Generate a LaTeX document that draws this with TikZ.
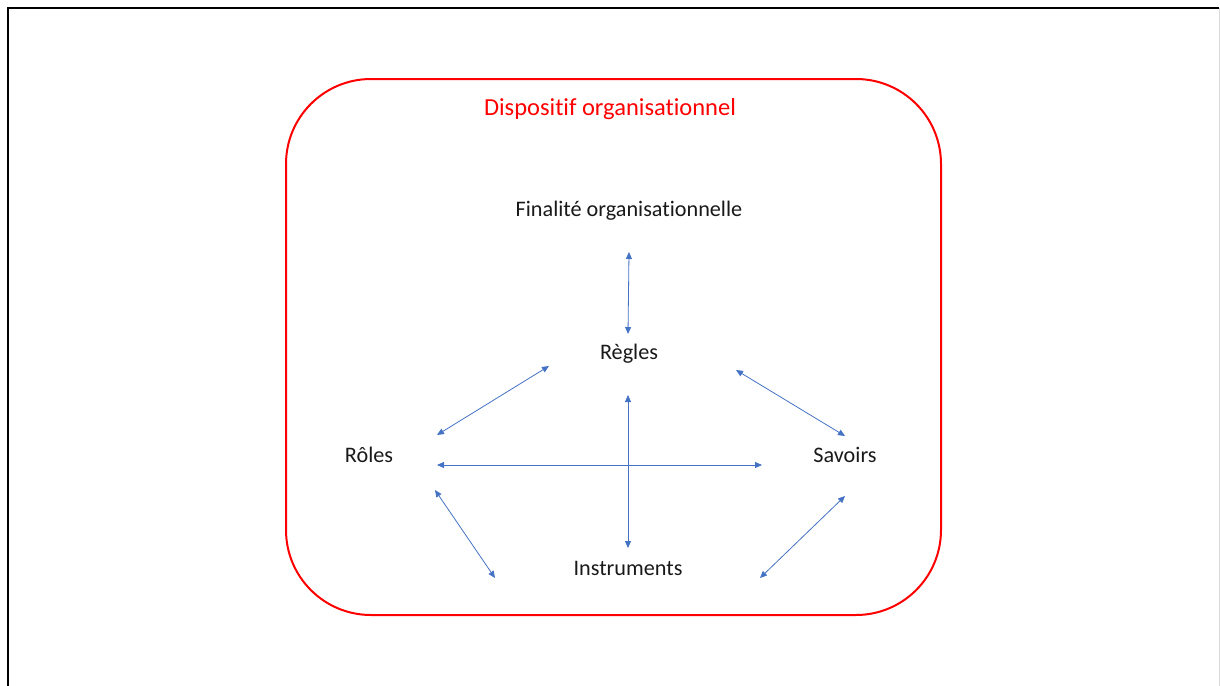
\documentclass[tikz,border=0pt]{standalone}
\usepackage{fontspec}
\setmainfont[Ligatures=NoCommon]{Carlito}
\usetikzlibrary{arrows.meta}
\definecolor{cadrerouge}{RGB}{255,0,0}
\definecolor{lienbleu}{RGB}{68,114,196}
\definecolor{textegris}{RGB}{25,25,25}
\begin{document}
\begin{tikzpicture}[x=1pt, y=-1pt,
  label node/.style={inner sep=0pt, text=textegris, font=\fontsize{22.2}{26}\selectfont},
  link/.style={draw=lienbleu, line width=0.8pt, {Triangle[length=7pt,width=6pt]}-{Triangle[length=7pt,width=6pt]}}]
\useasboundingbox (0,0) rectangle (1220,685);
% page frame
\draw[line width=2.8pt] (8,686) -- (8,8) -- (1219,8);
\draw[black!15, line width=1pt] (1219,8) -- (1219,686);
% dispositif
\draw[cadrerouge, line width=2pt, rounded corners=85pt] (286,79) rectangle (941,615);
\node[inner sep=0pt, text=cadrerouge, font=\fontsize{24.5}{28}\selectfont] (titre) at (610,109) {Dispositif organisationnel};
\begin{scope}[every node/.style={label node}]
\node (fin) at (629,211) {Finalité organisationnelle};%1
\node (reg) at (629,354) {Règles};%2
\node (rol) at (369,455) {Rôles};%3
\node (sav) at (845,455) {Savoirs};%4
\node (ins) at (628,568) {Instruments};%5
\end{scope}
\begin{scope}
\draw[link] ([shift={(0,41)}]fin.center) -- ([shift={(-1,-20)}]reg.center);
\draw[link] ([shift={(-80,12)}]reg.center) -- ([shift={(68,-20)}]rol.center);
\draw[link] ([shift={(107,16)}]reg.center) -- ([shift={(0,-19)}]sav.center);
\draw[link] ([shift={(68,10)}]rol.center) -- ([shift={(-83,10)}]sav.center);
\draw[link] ([shift={(-1,41)}]reg.center) -- ([shift={(0,-20)}]ins.center);
\draw[link] ([shift={(66,35)}]rol.center) -- ([shift={(-133,10)}]ins.center);
\draw[link] ([shift={(0,41)}]sav.center) -- ([shift={(132,10)}]ins.center);
\end{scope}
\end{tikzpicture}
\end{document}
